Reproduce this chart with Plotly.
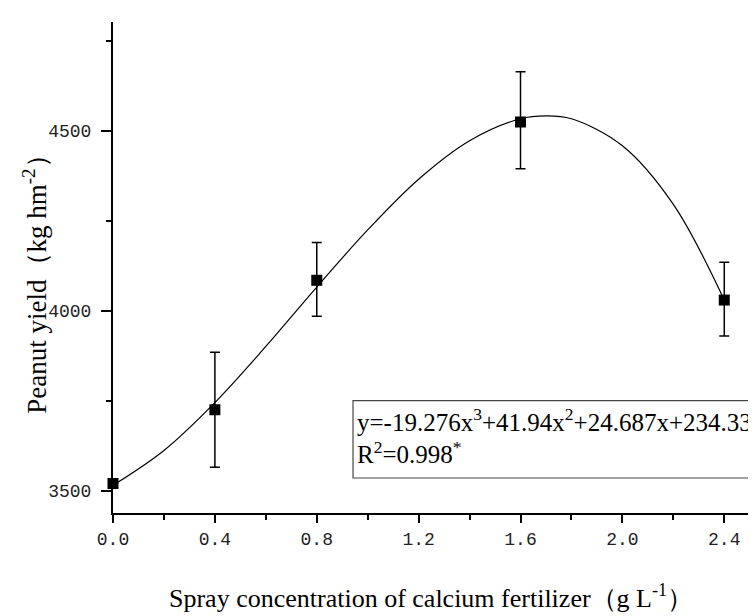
import plotly.graph_objects as go

# measured data
conc = [0.0, 0.4, 0.8, 1.6, 2.4]
yield_mean = [3520, 3725, 4085, 4525, 4030]
err_plus = [0, 160, 105, 140, 105]
err_minus = [0, 160, 100, 130, 100]

# fitted curve
fit_x = [0.0, 0.2, 0.4, 0.6, 0.8, 1.0, 1.2, 1.4, 1.6, 1.7, 1.8, 2.0, 2.2, 2.4]
fit_y = [3515, 3612, 3745, 3901, 4066, 4225, 4366, 4473, 4534, 4542, 4534, 4459, 4296, 4030]

x_ticks = [0.0, 0.4, 0.8, 1.2, 1.6, 2.0, 2.4]
x_ticklabels = ["0.0", "0.4", "0.8", "1.2", "1.6", "2.0", "2.4"]
y_ticks = [3500, 4000, 4500]
y_ticklabels = ["3500", "4000", "4500"]

eq_text = "y=-19.276x<sup>3</sup>+41.94x<sup>2</sup>+24.687x+234.33<br>R<sup>2</sup>=0.998<sup>*</sup>"

fig = go.Figure()
fig.add_trace(go.Scatter(x=fit_x, y=fit_y, mode="lines",
                         line=dict(color="black", width=1.2, shape="spline", smoothing=1.0),
                         hoverinfo="skip", showlegend=False))
fig.add_trace(go.Scatter(x=conc, y=yield_mean, mode="markers",
                         marker=dict(symbol="square", size=11, color="black"),
                         error_y=dict(type="data", symmetric=False, array=err_plus,
                                      arrayminus=err_minus, color="black", thickness=1.5, width=5),
                         showlegend=False, cliponaxis=False))

serif = "Liberation Serif, Times New Roman, serif"
mono = "Liberation Mono, Courier New, monospace"

fig.update_layout(
    width=756, height=616,
    margin=dict(l=105, r=0, t=14, b=111),
    paper_bgcolor="white", plot_bgcolor="white",
    font=dict(family=serif, color="black"),
    xaxis=dict(range=[0, 2.556], tickvals=x_ticks, ticktext=x_ticklabels,
               showline=True, linecolor="black", linewidth=2, showgrid=False, zeroline=False,
               ticks="outside", ticklen=8, tickwidth=1.5, tickcolor="black",
               minor=dict(dtick=0.2, ticks="outside", ticklen=5, tickwidth=1.5, tickcolor="black"),
               tickfont=dict(family=mono, size=18, color="#222"), fixedrange=True),
    yaxis=dict(range=[3438, 4803], tickvals=y_ticks, ticktext=y_ticklabels,
               showline=True, linecolor="black", linewidth=2, showgrid=False, zeroline=False,
               ticks="outside", ticklen=10, tickwidth=1.5, tickcolor="black", ticklabelstandoff=6,
               minor=dict(dtick=250, tick0=3500, ticks="outside", ticklen=5, tickwidth=1.5, tickcolor="black"),
               tickfont=dict(family=mono, size=18, color="#222"), fixedrange=True),
)

fig.add_annotation(xref="x", yref="paper", x=1.25, y=-0.17, yanchor="middle", xanchor="center",
                   text="Spray concentration of calcium fertilizer\uff08g L<sup>-1</sup>\uff09",
                   showarrow=False, font=dict(family=serif, size=26, color="black"))
fig.add_annotation(xref="paper", yref="paper", x=-0.12, y=0.479, xanchor="center", yanchor="middle",
                   textangle=-90,
                   text="Peanut yield\uff08kg hm<sup>-2</sup>\uff09",
                   showarrow=False, font=dict(family=serif, size=27, color="black"))

fig.add_shape(type="rect", xref="paper", yref="paper", x0=0.3687, x1=1.02, y0=0.0713, y1=0.2287,
              line=dict(color="#444", width=1.2), fillcolor="rgba(0,0,0,0)")
fig.add_annotation(xref="paper", yref="paper", x=0.372, y=0.157, xanchor="left", yanchor="middle",
                   align="left", text=eq_text, showarrow=False,
                   font=dict(family=serif, size=25, color="black"))

fig.write_html("out.html")
